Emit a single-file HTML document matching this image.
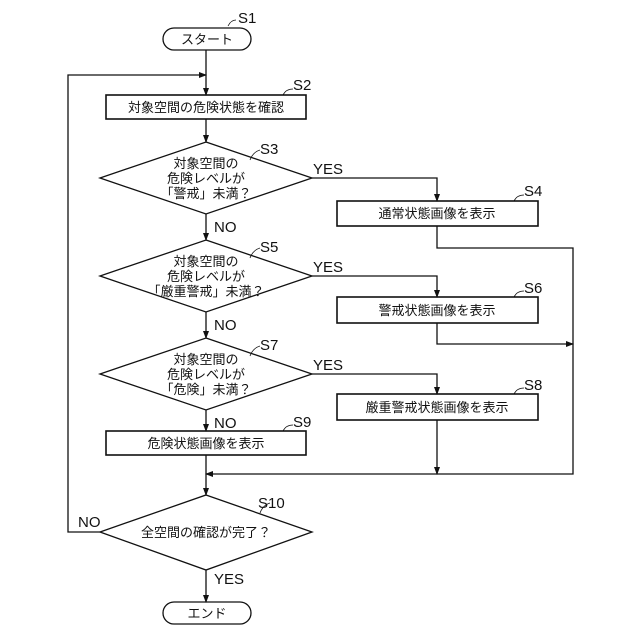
<!DOCTYPE html>
<html><head><meta charset="utf-8"><style>
html,body{margin:0;padding:0;background:#fff}
svg{display:block}
text{font-family:"Liberation Sans","Noto Sans CJK JP",sans-serif;fill:#111}
.t{font-size:13px;text-anchor:middle}
.s{font-size:15px}
</style></head><body>
<svg width="640" height="640" viewBox="0 0 640 640" xmlns="http://www.w3.org/2000/svg">
<defs><marker id="a" markerWidth="8" markerHeight="8" refX="7" refY="4" orient="auto" markerUnits="userSpaceOnUse"><path d="M0,1 L8,4 L0,7 Z" fill="#111"/></marker></defs>
<g stroke="#111" stroke-width="1.3" fill="none">
<rect x="163" y="28" width="88" height="22" rx="11" fill="#fff"/>
<rect x="163" y="602" width="88" height="22" rx="11" fill="#fff"/>
<rect x="106" y="95" width="200" height="24" fill="#fff" stroke-width="1.6"/>
<rect x="106" y="431" width="200" height="24" fill="#fff" stroke-width="1.6"/>
<rect x="337" y="201" width="201" height="25" fill="#fff" stroke-width="1.6"/>
<rect x="337" y="297" width="201" height="26" fill="#fff" stroke-width="1.6"/>
<rect x="337" y="394" width="201" height="26" fill="#fff" stroke-width="1.6"/>
<polygon points="206,142 312,178 206,214 100,178" fill="#fff"/>
<polygon points="206,240 312,276 206,312 100,276" fill="#fff"/>
<polygon points="206,338 312,374 206,410 100,374" fill="#fff"/>
<polygon points="206,495 312,532 206,570 100,532" fill="#fff"/>
<line x1="206" y1="50" x2="206" y2="95" marker-end="url(#a)"/>
<polyline points="100,532 68,532 68,75 206,75" marker-end="url(#a)"/>
<line x1="206" y1="119" x2="206" y2="142" marker-end="url(#a)"/>
<line x1="206" y1="214" x2="206" y2="240" marker-end="url(#a)"/>
<line x1="206" y1="312" x2="206" y2="338" marker-end="url(#a)"/>
<line x1="206" y1="410" x2="206" y2="431" marker-end="url(#a)"/>
<line x1="206" y1="455" x2="206" y2="495" marker-end="url(#a)"/>
<line x1="206" y1="570" x2="206" y2="602" marker-end="url(#a)"/>
<polyline points="312,178 437,178 437,201" marker-end="url(#a)"/>
<polyline points="312,276 437,276 437,297" marker-end="url(#a)"/>
<polyline points="312,374 437,374 437,394" marker-end="url(#a)"/>
<polyline points="437,226 437,248 573,248 573,474 206,474" marker-end="url(#a)"/>
<polyline points="437,323 437,344 573,344" marker-end="url(#a)"/>
<line x1="437" y1="420" x2="437" y2="474" marker-end="url(#a)"/>
<g stroke-width="0.8">
<path d="M228,26 q3,-6 8,-6"/><path d="M283,95 q3,-6 10,-6"/><path d="M250,160 q3,-8 10,-10"/>
<path d="M514,201 q3,-6 10,-6"/><path d="M250,258 q3,-8 10,-10"/><path d="M514,297 q3,-6 10,-6"/>
<path d="M250,356 q3,-8 10,-10"/><path d="M514,394 q3,-6 10,-6"/><path d="M283,431 q3,-6 10,-6"/>
<path d="M260,513 q3,-8 10,-10"/>
</g>
</g>
<text class="t" x="207" y="44">スタート</text>
<text class="t" x="207" y="618">エンド</text>
<text class="t" x="206" y="112">対象空間の危険状態を確認</text>
<text class="t" x="206" y="448">危険状態画像を表示</text>
<text class="t" x="437" y="218">通常状態画像を表示</text>
<text class="t" x="437" y="315">警戒状態画像を表示</text>
<text class="t" x="437" y="412">厳重警戒状態画像を表示</text>
<text class="t" x="206" y="168">対象空間の</text><text class="t" x="206" y="183">危険レベルが</text><text class="t" x="206" y="198">「警戒」未満？</text>
<text class="t" x="206" y="266">対象空間の</text><text class="t" x="206" y="281">危険レベルが</text><text class="t" x="206" y="296">「厳重警戒」未満？</text>
<text class="t" x="206" y="364">対象空間の</text><text class="t" x="206" y="379">危険レベルが</text><text class="t" x="206" y="394">「危険」未満？</text>
<text class="t" x="206" y="537">全空間の確認が完了？</text>
<text class="s" x="238" y="23">S1</text>
<text class="s" x="293" y="90">S2</text>
<text class="s" x="260" y="154">S3</text>
<text class="s" x="524" y="196">S4</text>
<text class="s" x="260" y="252">S5</text>
<text class="s" x="524" y="293">S6</text>
<text class="s" x="260" y="350">S7</text>
<text class="s" x="524" y="390">S8</text>
<text class="s" x="293" y="427">S9</text>
<text class="s" x="258" y="508">S10</text>
<text class="s" x="313" y="174">YES</text>
<text class="s" x="313" y="272">YES</text>
<text class="s" x="313" y="370">YES</text>
<text class="s" x="214" y="232">NO</text>
<text class="s" x="214" y="330">NO</text>
<text class="s" x="214" y="428">NO</text>
<text class="s" x="78" y="527">NO</text>
<text class="s" x="214" y="584">YES</text>
</svg>
</body></html>
